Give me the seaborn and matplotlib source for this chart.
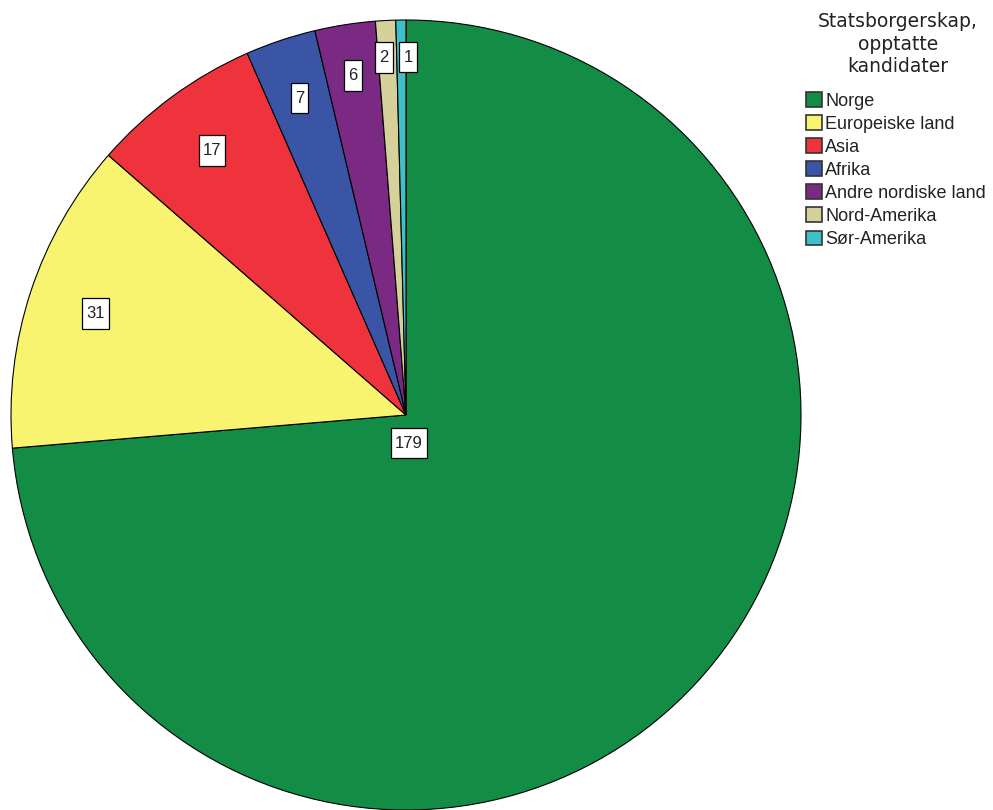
import numpy as np
import matplotlib
matplotlib.use("Agg")
import matplotlib.pyplot as plt
from matplotlib.patches import Patch
from matplotlib.path import Path
import seaborn as sns

sns.set_style("white")
plt.rcParams["font.family"] = ["Liberation Sans", "DejaVu Sans"]

# Admitted candidates by citizenship
categories = ["Norge", "Europeiske land", "Asia", "Afrika",
              "Andre nordiske land", "Nord-Amerika", "Sør-Amerika"]
counts = [179, 31, 17, 7, 6, 2, 1]
colors = ["#138C46", "#F9F46F", "#EE333D", "#3A55A5",
          "#7B2A83", "#D6D09B", "#3FBFCA"]
legend_title = "Statsborgerskap,\nopptatte\nkandidater"

# label placement: radial fraction and small angular nudge (degrees)
label_radius = [None, 0.827, 0.83, 0.846, 0.87, 0.906, 0.906]
label_nudge = [0, 0, 0, 0, 0, 0.56, -1.06]

W, H = 993, 810
fig = plt.figure(figsize=(W / 100, H / 100), dpi=100)
ax = fig.add_axes([0, 0, 1, 1])

cx, cy, R = 406, 395, 395
wedges, _ = ax.pie(counts, colors=colors, startangle=90, counterclock=False,
                   center=(cx, cy), radius=R,
                   wedgeprops=dict(edgecolor="black", linewidth=0.8))
ax.set_xlim(0, W)
ax.set_ylim(0, H)
ax.set_aspect("equal")
ax.axis("off")


def tall_box(x0, y0, width, height, mutation_size):
    """Square label box with more padding above/below than at the sides."""
    px, py = 0.24 * mutation_size, 0.47 * mutation_size
    x0, y0 = x0 - px, y0 - py
    x1, y1 = x0 + width + 2 * px, y0 + height + 2 * py
    return Path([(x0, y0), (x1, y0), (x1, y1), (x0, y1), (x0, y0)],
                closed=True)


box = dict(boxstyle=tall_box, facecolor="white", edgecolor="black",
           linewidth=0.9)
for w, n, rf, nd in zip(wedges, counts, label_radius, label_nudge):
    if rf is None:
        x, y = cx + 3, cy - 28
    else:
        ang = np.deg2rad((w.theta1 + w.theta2) / 2 + nd)
        x = cx + rf * R * np.cos(ang)
        y = cy + rf * R * np.sin(ang)
    ax.text(x, y, str(n), ha="center", va="center", fontsize=12,
            color="#222222", bbox=box)

# legend title, centred over the entries
fig.text(898 / W, 1 - 12 / H, legend_title, ha="center", va="top",
         fontsize=13.5, family="DejaVu Sans", color="#222222",
         linespacing=1.24)

handles = [Patch(facecolor=c, edgecolor="#333333", linewidth=1.2) for c in colors]
leg = fig.legend(handles, categories,
                 loc="upper left", bbox_to_anchor=(806 / W, 1 - 92 / H),
                 frameon=False, borderpad=0, borderaxespad=0, fontsize=13,
                 handlelength=0.89, handleheight=0.89, handletextpad=0.18,
                 labelspacing=0.3)
for t in leg.get_texts():
    t.set_color("#222222")

fig.savefig("out.png", dpi=100)
